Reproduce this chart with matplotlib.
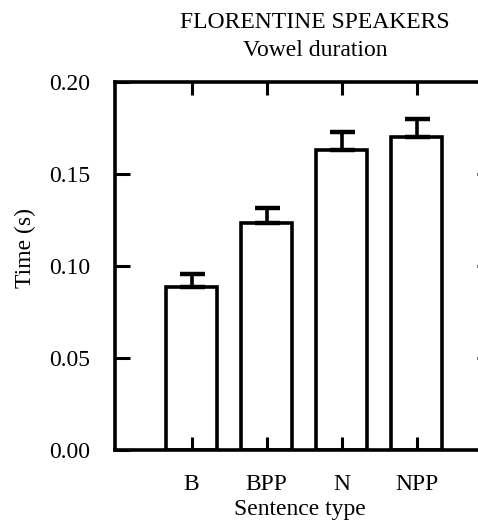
import matplotlib
matplotlib.use("Agg")
import matplotlib.pyplot as plt

categories = ["B", "BPP", "N", "NPP"]
durations = [0.0886, 0.1236, 0.1630, 0.1703]
errors = [0.0071, 0.0079, 0.0100, 0.0094]
yticks = [0.00, 0.05, 0.10, 0.15, 0.20]
ytick_labels = ["0.00", "0.05", "0.10", "0.15", "0.20"]

plt.rcParams['font.family'] = ['Liberation Serif', 'DejaVu Serif']

W, H = 478, 524
FS = 17
fig = plt.figure(figsize=(W/100, H/100), dpi=100)
ax = fig.add_axes([115/W, (H-450)/H, (491.5-115)/W, (450-82)/H])

x = list(range(len(categories)))
ax.bar(x, durations, width=0.67, facecolor='white', edgecolor='black', linewidth=2.6,
       yerr=[[0]*len(errors), errors], capsize=9,
       error_kw=dict(elinewidth=2.6, capthick=3.2, ecolor='black'))

ax.set_xlim(-1.02, 4.0)
ax.set_ylim(0, 0.20)
ax.set_yticks(yticks)
ax.set_yticklabels(ytick_labels)
ax.set_xticks(x)
ax.set_xticklabels(categories)

for s in ax.spines.values():
    s.set_linewidth(2.6)

ax.tick_params(axis='y', direction='in', length=10.5, width=2.2, labelsize=FS, pad=18,
               left=True, right=True)
ax.tick_params(axis='x', direction='in', length=9.5, width=2.2, labelsize=FS, pad=17,
               bottom=True, top=True)

fig.text(25/W, 1 - 248/H, "Time (s)", ha='center', va='center', rotation=90, fontsize=FS)
fig.text(300/W, 1 - 509/H, "Sentence type", ha='center', va='center', fontsize=FS)
fig.text(315/W, 1 - 23/H, "FLORENTINE SPEAKERS", ha='center', va='center', fontsize=FS)
fig.text(315/W, 1 - 50/H, "Vowel duration", ha='center', va='center', fontsize=FS)

fig.savefig("out.png", dpi=100)
